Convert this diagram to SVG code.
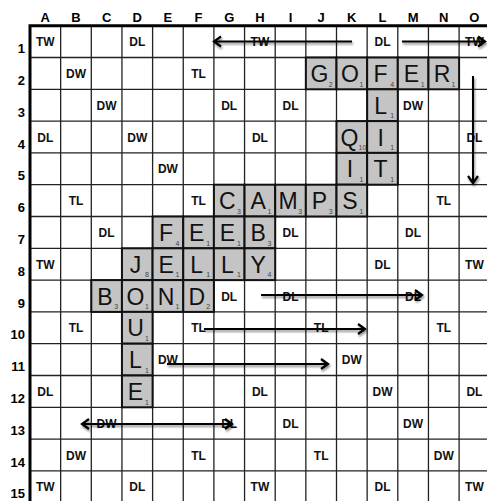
<svg xmlns="http://www.w3.org/2000/svg" width="487" height="501" viewBox="0 0 487 501">
<style>
.hdr{font-family:"Liberation Sans",Arial,sans-serif;font-weight:bold;font-size:13px;fill:#000;text-anchor:middle}
.num{font-family:"Liberation Sans",Arial,sans-serif;font-weight:bold;font-size:13px;fill:#000;text-anchor:end}
.prem{font-family:"Liberation Sans",Arial,sans-serif;font-weight:bold;font-size:12px;fill:#111;text-anchor:middle}
.tile rect{fill:#c4c4c4;stroke:#111;stroke-width:2}
.tile .l{font-family:"Liberation Sans",Arial,sans-serif;font-size:23px;fill:#111;text-anchor:middle}
.tile .s{font-family:"Liberation Sans",Arial,sans-serif;font-size:7px;fill:#444}
.grid{stroke:#222;stroke-width:1.3;fill:none}
.arrow{stroke:#000;stroke-width:2;fill:none}
</style>
<defs>
<filter id="sh" filterUnits="userSpaceOnUse" x="0" y="0" width="487" height="501">
<feDropShadow dx="1" dy="2" stdDeviation="1.2" flood-color="#000" flood-opacity="0.45"/>
</filter>
<marker id="ah" markerUnits="userSpaceOnUse" markerWidth="14" markerHeight="14" refX="0" refY="0" viewBox="-10 -7 14 14" orient="auto-start-reverse">
<path d="M-7,-5 L0,0 L-7,5" stroke="#000" stroke-width="2.2" fill="none"/>
</marker>
</defs>
<rect x="0" y="0" width="487" height="501" fill="#fff"/>

<g id="headers">
<text class="hdr" x="45.3" y="21.5">A</text>
<text class="hdr" x="76" y="21.5">B</text>
<text class="hdr" x="106.6" y="21.5">C</text>
<text class="hdr" x="137.3" y="21.5">D</text>
<text class="hdr" x="167.9" y="21.5">E</text>
<text class="hdr" x="198.6" y="21.5">F</text>
<text class="hdr" x="229.2" y="21.5">G</text>
<text class="hdr" x="259.9" y="21.5">H</text>
<text class="hdr" x="290.5" y="21.5">I</text>
<text class="hdr" x="321.2" y="21.5">J</text>
<text class="hdr" x="351.8" y="21.5">K</text>
<text class="hdr" x="382.5" y="21.5">L</text>
<text class="hdr" x="413.1" y="21.5">M</text>
<text class="hdr" x="443.8" y="21.5">N</text>
<text class="hdr" x="474.4" y="21.5">O</text>
<text class="num" x="25" y="53.2">1</text>
<text class="num" x="25" y="85">2</text>
<text class="num" x="25" y="116.8">3</text>
<text class="num" x="25" y="148.6">4</text>
<text class="num" x="25" y="180.4">5</text>
<text class="num" x="25" y="212.2">6</text>
<text class="num" x="25" y="244">7</text>
<text class="num" x="25" y="275.8">8</text>
<text class="num" x="25" y="307.6">9</text>
<text class="num" x="25" y="339.4">10</text>
<text class="num" x="25" y="371.2">11</text>
<text class="num" x="25" y="403">12</text>
<text class="num" x="25" y="434.8">13</text>
<text class="num" x="25" y="466.6">14</text>
<text class="num" x="25" y="498.4">15</text>
</g>

<g id="grid">
<path class="grid" d="M60.65,25.7V502.7M91.3,25.7V502.7M121.95,25.7V502.7M152.6,25.7V502.7M183.25,25.7V502.7M213.9,25.7V502.7M244.55,25.7V502.7M275.2,25.7V502.7M305.85,25.7V502.7M336.5,25.7V502.7M367.15,25.7V502.7M397.8,25.7V502.7M428.45,25.7V502.7M459.1,25.7V502.7M489.75,25.7V502.7
M30,57.5H489.75M30,89.3H489.75M30,121.1H489.75M30,152.9H489.75M30,184.7H489.75M30,216.5H489.75M30,248.3H489.75M30,280.1H489.75M30,311.9H489.75M30,343.7H489.75M30,375.5H489.75M30,407.3H489.75M30,439.1H489.75M30,470.9H489.75M30,502.7H489.75"/>
<path d="M30,503V25.7H490" stroke="#000" stroke-width="3" fill="none"/>
</g>

<g id="premiums">
<text class="prem" x="45.3" y="46.1">TW</text>
<text class="prem" x="137.3" y="46.1">DL</text>
<text class="prem" x="259.9" y="46.1">TW</text>
<text class="prem" x="382.5" y="46.1">DL</text>
<text class="prem" x="474.4" y="46.1">TW</text>
<text class="prem" x="76" y="77.9">DW</text>
<text class="prem" x="198.6" y="77.9">TL</text>
<text class="prem" x="106.6" y="109.7">DW</text>
<text class="prem" x="229.2" y="109.7">DL</text>
<text class="prem" x="290.5" y="109.7">DL</text>
<text class="prem" x="413.1" y="109.7">DW</text>
<text class="prem" x="45.3" y="141.5">DL</text>
<text class="prem" x="137.3" y="141.5">DW</text>
<text class="prem" x="259.9" y="141.5">DL</text>
<text class="prem" x="474.4" y="141.5">DL</text>
<text class="prem" x="167.9" y="173.3">DW</text>
<text class="prem" x="76" y="205.1">TL</text>
<text class="prem" x="198.6" y="205.1">TL</text>
<text class="prem" x="443.8" y="205.1">TL</text>
<text class="prem" x="106.6" y="236.9">DL</text>
<text class="prem" x="290.5" y="236.9">DL</text>
<text class="prem" x="413.1" y="236.9">DL</text>
<text class="prem" x="45.3" y="268.7">TW</text>
<text class="prem" x="382.5" y="268.7">DL</text>
<text class="prem" x="474.4" y="268.7">TW</text>
<text class="prem" x="229.2" y="300.5">DL</text>
<text class="prem" x="290.5" y="300.5">DL</text>
<text class="prem" x="413.1" y="300.5">DL</text>
<text class="prem" x="76" y="332.3">TL</text>
<text class="prem" x="198.6" y="332.3">TL</text>
<text class="prem" x="321.2" y="332.3">TL</text>
<text class="prem" x="443.8" y="332.3">TL</text>
<text class="prem" x="167.9" y="364.1">DW</text>
<text class="prem" x="351.8" y="364.1">DW</text>
<text class="prem" x="45.3" y="395.9">DL</text>
<text class="prem" x="259.9" y="395.9">DL</text>
<text class="prem" x="382.5" y="395.9">DW</text>
<text class="prem" x="474.4" y="395.9">DL</text>
<text class="prem" x="106.6" y="427.7">DW</text>
<text class="prem" x="229.2" y="427.7">DL</text>
<text class="prem" x="290.5" y="427.7">DL</text>
<text class="prem" x="413.1" y="427.7">DW</text>
<text class="prem" x="76" y="459.5">DW</text>
<text class="prem" x="198.6" y="459.5">TL</text>
<text class="prem" x="321.2" y="459.5">TL</text>
<text class="prem" x="443.8" y="459.5">DW</text>
<text class="prem" x="45.3" y="491.3">TW</text>
<text class="prem" x="137.3" y="491.3">DL</text>
<text class="prem" x="259.9" y="491.3">TW</text>
<text class="prem" x="382.5" y="491.3">DL</text>
<text class="prem" x="474.4" y="491.3">TW</text>
</g>

<g id="tiles">
<g id="tile-J2" class="tile" transform="translate(305.85,57.5)"><rect width="30.65" height="31.8"/><text class="l" x="13.5" y="24.5">G</text><text class="s" x="23" y="29">2</text></g>
<g id="tile-K2" class="tile" transform="translate(336.5,57.5)"><rect width="30.65" height="31.8"/><text class="l" x="13.5" y="24.5">O</text><text class="s" x="23" y="29">1</text></g>
<g id="tile-L2" class="tile" transform="translate(367.15,57.5)"><rect width="30.65" height="31.8"/><text class="l" x="13.5" y="24.5">F</text><text class="s" x="23" y="29">4</text></g>
<g id="tile-M2" class="tile" transform="translate(397.8,57.5)"><rect width="30.65" height="31.8"/><text class="l" x="13.5" y="24.5">E</text><text class="s" x="23" y="29">1</text></g>
<g id="tile-N2" class="tile" transform="translate(428.45,57.5)"><rect width="30.65" height="31.8"/><text class="l" x="13.5" y="24.5">R</text><text class="s" x="23" y="29">1</text></g>
<g id="tile-L3" class="tile" transform="translate(367.15,89.3)"><rect width="30.65" height="31.8"/><text class="l" x="13.5" y="24.5">L</text><text class="s" x="23" y="29">1</text></g>
<g id="tile-K4" class="tile" transform="translate(336.5,121.1)"><rect width="30.65" height="31.8"/><text class="l" x="13" y="24.5">Q</text><text class="s" x="22" y="29">10</text></g>
<g id="tile-L4" class="tile" transform="translate(367.15,121.1)"><rect width="30.65" height="31.8"/><text class="l" x="13.5" y="24.5">I</text><text class="s" x="23" y="29">1</text></g>
<g id="tile-K5" class="tile" transform="translate(336.5,152.9)"><rect width="30.65" height="31.8"/><text class="l" x="13.5" y="24.5">I</text><text class="s" x="23" y="29">1</text></g>
<g id="tile-L5" class="tile" transform="translate(367.15,152.9)"><rect width="30.65" height="31.8"/><text class="l" x="13.5" y="24.5">T</text><text class="s" x="23" y="29">1</text></g>
<g id="tile-G6" class="tile" transform="translate(213.9,184.7)"><rect width="30.65" height="31.8"/><text class="l" x="13.5" y="24.5">C</text><text class="s" x="23" y="29">3</text></g>
<g id="tile-H6" class="tile" transform="translate(244.55,184.7)"><rect width="30.65" height="31.8"/><text class="l" x="13.5" y="24.5">A</text><text class="s" x="23" y="29">1</text></g>
<g id="tile-I6" class="tile" transform="translate(275.2,184.7)"><rect width="30.65" height="31.8"/><text class="l" x="13" y="24.5">M</text><text class="s" x="23" y="29">3</text></g>
<g id="tile-J6" class="tile" transform="translate(305.85,184.7)"><rect width="30.65" height="31.8"/><text class="l" x="13.5" y="24.5">P</text><text class="s" x="23" y="29">3</text></g>
<g id="tile-K6" class="tile" transform="translate(336.5,184.7)"><rect width="30.65" height="31.8"/><text class="l" x="13.5" y="24.5">S</text><text class="s" x="23" y="29">1</text></g>
<g id="tile-E7" class="tile" transform="translate(152.6,216.5)"><rect width="30.65" height="31.8"/><text class="l" x="13.5" y="24.5">F</text><text class="s" x="23" y="29">4</text></g>
<g id="tile-F7" class="tile" transform="translate(183.25,216.5)"><rect width="30.65" height="31.8"/><text class="l" x="13.5" y="24.5">E</text><text class="s" x="23" y="29">1</text></g>
<g id="tile-G7" class="tile" transform="translate(213.9,216.5)"><rect width="30.65" height="31.8"/><text class="l" x="13.5" y="24.5">E</text><text class="s" x="23" y="29">1</text></g>
<g id="tile-H7" class="tile" transform="translate(244.55,216.5)"><rect width="30.65" height="31.8"/><text class="l" x="13.5" y="24.5">B</text><text class="s" x="23" y="29">3</text></g>
<g id="tile-D8" class="tile" transform="translate(121.95,248.3)"><rect width="30.65" height="31.8"/><text class="l" x="13.5" y="24.5">J</text><text class="s" x="23" y="29">8</text></g>
<g id="tile-E8" class="tile" transform="translate(152.6,248.3)"><rect width="30.65" height="31.8"/><text class="l" x="13.5" y="24.5">E</text><text class="s" x="23" y="29">1</text></g>
<g id="tile-F8" class="tile" transform="translate(183.25,248.3)"><rect width="30.65" height="31.8"/><text class="l" x="13.5" y="24.5">L</text><text class="s" x="23" y="29">1</text></g>
<g id="tile-G8" class="tile" transform="translate(213.9,248.3)"><rect width="30.65" height="31.8"/><text class="l" x="13.5" y="24.5">L</text><text class="s" x="23" y="29">1</text></g>
<g id="tile-H8" class="tile" transform="translate(244.55,248.3)"><rect width="30.65" height="31.8"/><text class="l" x="13.5" y="24.5">Y</text><text class="s" x="23" y="29">4</text></g>
<g id="tile-C9" class="tile" transform="translate(91.3,280.1)"><rect width="30.65" height="31.8"/><text class="l" x="13.5" y="24.5">B</text><text class="s" x="23" y="29">3</text></g>
<g id="tile-D9" class="tile" transform="translate(121.95,280.1)"><rect width="30.65" height="31.8"/><text class="l" x="13.5" y="24.5">O</text><text class="s" x="23" y="29">1</text></g>
<g id="tile-E9" class="tile" transform="translate(152.6,280.1)"><rect width="30.65" height="31.8"/><text class="l" x="13.5" y="24.5">N</text><text class="s" x="23" y="29">1</text></g>
<g id="tile-F9" class="tile" transform="translate(183.25,280.1)"><rect width="30.65" height="31.8"/><text class="l" x="13.5" y="24.5">D</text><text class="s" x="23" y="29">2</text></g>
<g id="tile-D10" class="tile" transform="translate(121.95,311.9)"><rect width="30.65" height="31.8"/><text class="l" x="13.5" y="24.5">U</text><text class="s" x="23" y="29">1</text></g>
<g id="tile-D11" class="tile" transform="translate(121.95,343.7)"><rect width="30.65" height="31.8"/><text class="l" x="13.5" y="24.5">L</text><text class="s" x="23" y="29">1</text></g>
<g id="tile-D12" class="tile" transform="translate(121.95,375.5)"><rect width="30.65" height="31.8"/><text class="l" x="13.5" y="24.5">E</text><text class="s" x="23" y="29">1</text></g>
</g>

<g id="connectors" filter="url(#sh)">
<path class="arrow" d="M352,41.5H214" marker-end="url(#ah)"/>
<path class="arrow" d="M402,41.5H485" marker-end="url(#ah)"/>
<path class="arrow" d="M473,76V183" marker-end="url(#ah)"/>
<path class="arrow" d="M261,295H422" marker-end="url(#ah)"/>
<path class="arrow" d="M204,329H365" marker-end="url(#ah)"/>
<path class="arrow" d="M167,364H328" marker-end="url(#ah)"/>
<path class="arrow" d="M82,424H232" marker-start="url(#ah)" marker-end="url(#ah)"/>
</g>
</svg>
